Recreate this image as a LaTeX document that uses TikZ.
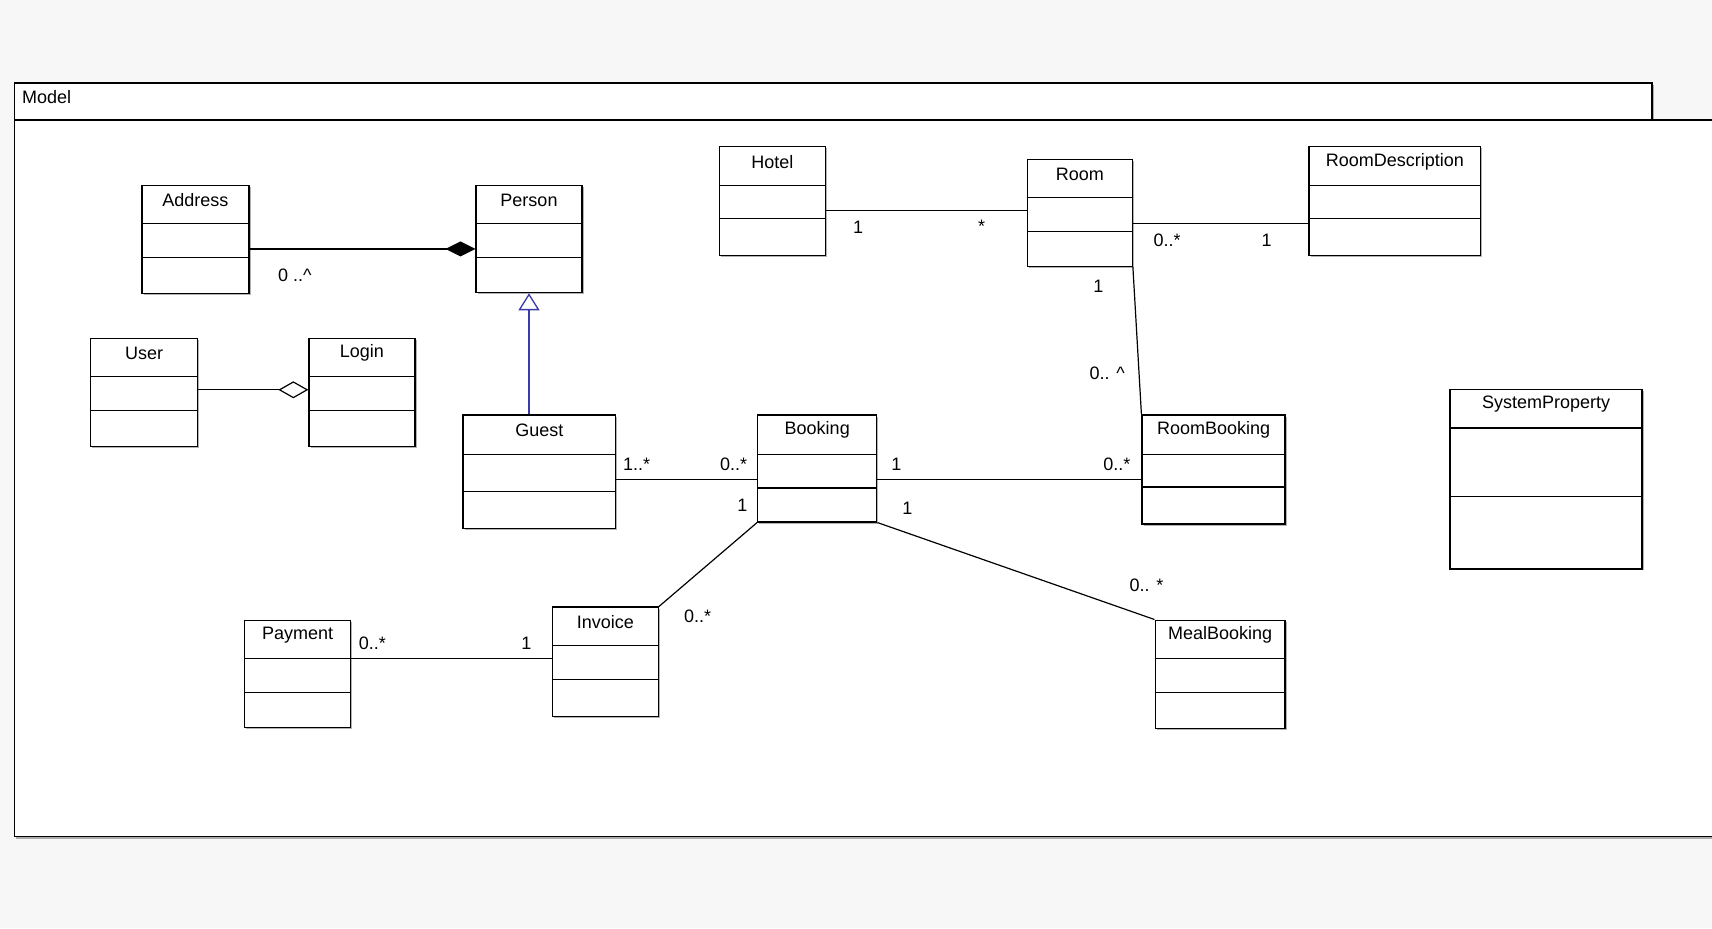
\documentclass[tikz,border=0pt]{standalone}
\usepackage{fontspec}
\setmainfont{Liberation Sans}
\usetikzlibrary{fit,shadows,arrows.meta}
\definecolor{bgcol}{HTML}{F7F7F7}
\definecolor{genblue}{HTML}{3A3AA8}
\tikzset{
  clsbox/.style={draw, line width=1.3pt, fill=white, inner sep=0pt,
    drop shadow={shadow xshift=1.6pt,shadow yshift=-1.6pt,fill=black,opacity=0.3}},
  clstitle/.style={font=\fontsize{18pt}{20pt}\selectfont, inner sep=0pt},
  mult/.style={font=\fontsize{18pt}{20pt}\selectfont, inner sep=0pt},
  assoc/.style={line width=1.2pt},
  gen/.style={line width=1.3pt, draw=genblue},
}
\newcommand\umlcls[8]{%
  \pgfmathsetmacro\titley{(#3+#6)/2-4}%
  \pgfmathsetmacro\titlex{(#2+#4)/2}%
  \node[clsbox, fit={(#2,#3) (#4,#5)}] (#1) {};
  \draw[line width=1.2pt] (#1.west |- 0,#6) -- (#1.east |- 0,#6)
                          (#1.west |- 0,#7) -- (#1.east |- 0,#7);
  \node[clstitle] (#1-t) at (\titlex,\titley) {#8};
}
\begin{document}
\begin{tikzpicture}[x=1.0918pt,y=-1.0918pt]
\useasboundingbox (0,0) rectangle (1568,850);
\fill[bgcol] (0,0) rectangle (1568,850);
% package
\fill[black,opacity=0.3] (15,112) rectangle (1580,768);
\draw[line width=1.3pt, fill=white] (13,110) rectangle (1580,766);
\fill[black,opacity=0.3] (15,78) rectangle (1515,110);
\draw[line width=1.3pt, fill=white] (13,76) rectangle (1513,110);
\node[clstitle, anchor=west] (model) at (20,89) {Model};
% classes
\umlcls{Address}{130}{170}{228}{269}{205}{236}{Address}
\umlcls{Person}{436}{170}{533}{268}{205}{236}{Person}
\umlcls{Hotel}{659}{134}{756}{234}{170}{200}{Hotel}
\umlcls{Room}{941}{146}{1037}{244}{181}{212}{Room}
\umlcls{RoomDescription}{1199}{134}{1356}{234}{170}{200}{RoomDescription}
\umlcls{User}{83}{310}{181}{409}{345}{376}{User}
\umlcls{Login}{283}{310}{380}{409}{345}{376}{Login}
\umlcls{Guest}{424}{380}{564}{484}{416}{450}{Guest}
\umlcls{Booking}{694}{380}{803}{478}{416}{447}{Booking}
\umlcls{RoomBooking}{1046}{380}{1177}{480}{416}{446}{RoomBooking}
\umlcls{SystemProperty}{1328}{357}{1504}{521}{392}{455}{SystemProperty}
\umlcls{Payment}{224}{568}{321}{666}{603}{634}{Payment}
\umlcls{Invoice}{506}{556}{603}{656}{591}{622}{Invoice}
\umlcls{MealBooking}{1058}{568}{1177}{667}{603}{634}{MealBooking}
% connectors
\draw[assoc, -{Diamond[length=30pt,width=15pt]}] (Address.east |- 0,228) -- (Person.west |- 0,228);
\draw[assoc, -{Diamond[open,fill=white,length=30pt,width=17pt]}] (User.east |- 0,357) -- (Login.west |- 0,357);
\draw[gen, -{Triangle[open,fill=white,length=17pt,width=21pt]}] (Guest.north -| Person.south) -- (Person.south);
\draw[assoc] (Hotel.east |- 0,193) -- (Room.west |- 0,193);
\draw[assoc] (Room.east |- 0,205) -- (RoomDescription.west |- 0,205);
\draw[assoc] (Room.south east) -- (RoomBooking.north west);
\draw[assoc] (Guest.east |- 0,439) -- (Booking.west |- 0,439);
\draw[assoc] (Booking.east |- 0,439) -- (RoomBooking.west |- 0,439);
\draw[assoc] (Booking.south west) -- (Invoice.north east);
\draw[assoc] (Booking.south east) -- (MealBooking.north west);
\draw[assoc] (Payment.east |- 0,603) -- (Invoice.west |- 0,603);
% multiplicities
\node[mult] (m1) at (270,252) {0 ..\textasciicircum};
\node[mult] (m2) at (786,208) {1};
\node[mult] (m3) at (899,207) {*};
\node[mult] (m4) at (1069,220) {0..*};
\node[mult] (m5) at (1160,220) {1};
\node[mult] (m6) at (1006,262) {1};
\node[mult] (m7) at (1014,342) {0.. \textasciicircum};
\node[mult] (m8) at (583,425) {1..*};
\node[mult] (m9) at (672,425) {0..*};
\node[mult] (m10) at (821,425) {1};
\node[mult] (m11) at (1023,425) {0..*};
\node[mult] (m12) at (680,463) {1};
\node[mult] (m13) at (639,564) {0..*};
\node[mult] (m14) at (831,466) {1};
\node[mult] (m15) at (1050,536) {0.. *};
\node[mult] (m16) at (341,589) {0..*};
\node[mult] (m17) at (482,589) {1};
\end{tikzpicture}
\end{document}
